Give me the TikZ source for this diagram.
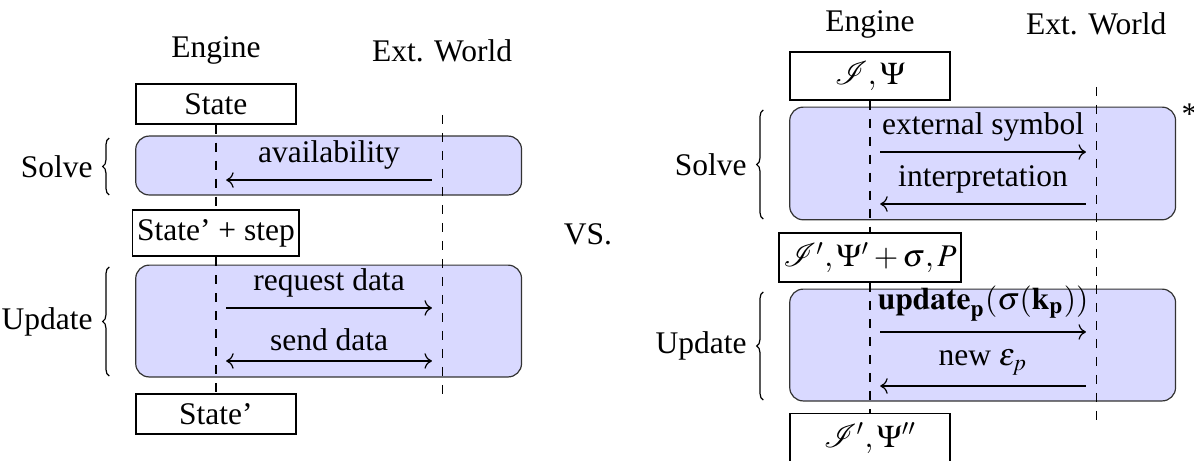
\documentclass[tikz,border=0pt]{standalone}
\usepackage{mathptmx}
\usepackage{mathrsfs}
\usepackage{fontspec}
\setmainfont{Liberation Serif}
\usetikzlibrary{arrows.meta, calc, positioning}
\usetikzlibrary{decorations, decorations.pathreplacing}
\tikzset{
    statebox/.style={draw, semithick, fill=white, minimum width=1.87cm, inner xsep=1.5pt, inner ysep=3.1pt},
    phasebox/.style={draw=black!80, fill=blue!15, rounded corners=4.5pt, minimum width=4.52cm},
    lifeline/.style={dashed, thin},
    phasebrace/.style={decorate, decoration={brace, amplitude=2.2pt}},
}

\begin{document}
\begin{tikzpicture}[every node/.style={font=\fontsize{10.5pt}{12.6pt}\selectfont}]
    \def \W {2.65}
    \def \Bx {1.32}
    \useasboundingbox (0,0) rectangle (13.988,-5.400);
    % left: the plain loop
    \begin{scope}[xshift=2.530cm]
    \node (engA) at (0,-0.597) {Engine};
    \node (extA) at (\W,-0.597) {Ext. World};
    \node[statebox] (stA) at (0,-1.218) {State};
    \node[phasebox, minimum height=0.69cm] (solveA) at (\Bx,-1.939) {};
    \node[statebox] (stB) at (0,-2.730) {State’ + step};
    \node[phasebox, minimum height=1.31cm] (updateA) at (\Bx,-3.761) {};
    \node[statebox] (stC) at (0,-4.850) {State’};
    \coordinate (wA0) at (\W,-1.347);
    \coordinate (wA1) at (\W,-4.721);
    \draw[lifeline] (stA) -- (stB);
    \draw[lifeline] (stB) -- (stC);
    \draw[lifeline] (wA0) -- (wA1);
    \coordinate (a1) at (0.12,-2.109);
    \coordinate (a2) at (\W-0.12,-2.109);
    \coordinate (a3) at (0.12,-3.608);
    \coordinate (a4) at (\W-0.12,-3.608);
    \coordinate (a5) at (0.12,-4.229);
    \coordinate (a6) at (\W-0.12,-4.229);
    \draw[->] (a2) -- (a1) node[midway, above] {availability};
    \draw[->] (a3) -- (a4) node[midway, above] {request data};
    \draw[<->] (a5) -- (a6) node[midway, above] {send data};
    \draw[phasebrace] (-1.25,-2.284) -- (-1.25,-1.617) node[midway, left=2pt] {Solve};
    \draw[phasebrace] (-1.25,-4.405) -- (-1.25,-3.128) node[midway, left=2pt] {Update};
    \end{scope}
    \node (vs) at (6.888,-2.741) {VS.};
    % right: the same loop with the external world
    \begin{scope}[xshift=10.192cm]
    \node (engB) at (0,-0.281) {Engine};
    \node (extB) at (\W,-0.281) {Ext. World};
    \node[statebox] (ipA) at (0,-0.890) {$\mathscr{I},\Psi$};
    \node[phasebox, minimum height=1.32cm] (solveB) at (\Bx,-1.915) {};
    \node[statebox] (ipB) at (0,-3.017) {$\mathscr{I}',\Psi' + \sigma, P$};
    \node[phasebox, minimum height=1.31cm] (updateB) at (\Bx,-4.042) {};
    \node[statebox] (ipC) at (0,-5.131) {$\mathscr{I}',\Psi''$};
    \node[anchor=north west, inner sep=0pt, xshift=1.6pt, yshift=1.2pt] (star) at (solveB.north east) {*};
    \coordinate (wB0) at (\W,-1.019);
    \coordinate (wB1) at (\W,-5.014);
    \draw[lifeline] (ipA) -- (ipB);
    \draw[lifeline] (ipB) -- (ipC);
    \draw[lifeline] (wB0) -- (wB1);
    \coordinate (b1) at (0.12,-1.781);
    \coordinate (b2) at (\W-0.12,-1.781);
    \coordinate (b3) at (0.12,-2.390);
    \coordinate (b4) at (\W-0.12,-2.390);
    \coordinate (b5) at (0.12,-3.889);
    \coordinate (b6) at (\W-0.12,-3.889);
    \coordinate (b7) at (0.12,-4.522);
    \coordinate (b8) at (\W-0.12,-4.522);
    \draw[->] (b1) -- (b2) node[midway, above] {external symbol};
    \draw[->] (b4) -- (b3) node[midway, above] {interpretation};
    \draw[->] (b5) -- (b6) node[midway, above] {$\mathbf{update}_\mathbf{p}(\sigma(\mathbf{k}_\mathbf{p}))$};
    \draw[->] (b8) -- (b7) node[midway, above] {new $\varepsilon_p$};
    \draw[phasebrace] (-1.25,-2.566) -- (-1.25,-1.289) node[midway, left=2pt] {Solve};
    \draw[phasebrace] (-1.25,-4.686) -- (-1.25,-3.421) node[midway, left=2pt] {Update};
    \end{scope}
\end{tikzpicture}
\end{document}
